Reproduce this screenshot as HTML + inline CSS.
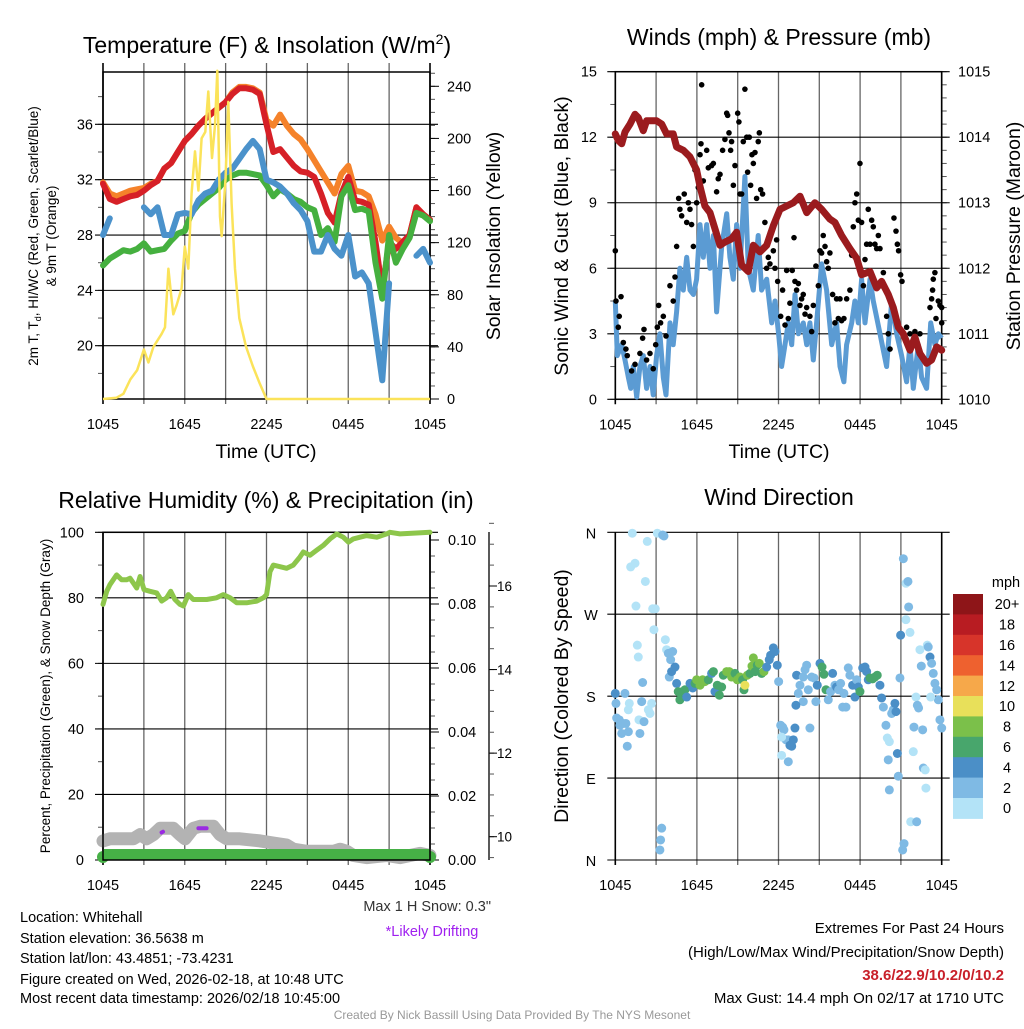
<!DOCTYPE html>
<html><head><meta charset="utf-8">
<style>
html,body{margin:0;padding:0;background:#fff;}
body{width:1024px;height:1024px;overflow:hidden;font-family:"Liberation Sans",Arial,sans-serif;}
svg text{font-family:"Liberation Sans",Arial,sans-serif;}
</style></head>
<body>
<svg id="root" width="1024" height="1024" viewBox="0 0 1024 1024" xmlns="http://www.w3.org/2000/svg">
<g id="p1"></g>
<g id="p2"></g>
<g id="p3"></g>
<g id="p4"></g>
<g>
<text x="267" y="53" font-size="23" text-anchor="middle">Temperature (F) &amp; Insolation (W/m<tspan dy="-9" font-size="14">2</tspan><tspan dy="9">)</tspan></text>
<text x="779" y="45" font-size="23" text-anchor="middle">Winds (mph) &amp; Pressure (mb)</text>
<text x="266" y="508" font-size="23" text-anchor="middle">Relative Humidity (%) &amp; Precipitation (in)</text>
<text x="779" y="505" font-size="23" text-anchor="middle">Wind Direction</text>
</g>
<g font-size="14.5">
<text x="20" y="922">Location: Whitehall</text>
<text x="20" y="943">Station elevation: 36.5638 m</text>
<text x="20" y="963">Station lat/lon: 43.4851; -73.4231</text>
<text x="20" y="984">Figure created on Wed, 2026-02-18, at 10:48 UTC</text>
<text x="20" y="1003">Most recent data timestamp: 2026/02/18 10:45:00</text>
<text x="491" y="911" text-anchor="end" fill="#333">Max 1 H Snow: 0.3"</text>
<text x="432" y="936" text-anchor="middle" fill="#a020f0">*Likely Drifting</text>
</g>
<g font-size="15">
<text x="1004" y="933" text-anchor="end">Extremes For Past 24 Hours</text>
<text x="1004" y="957" text-anchor="end">(High/Low/Max Wind/Precipitation/Snow Depth)</text>
<text x="1004" y="980" text-anchor="end" fill="#c8202a" font-weight="bold">38.6/22.9/10.2/0/10.2</text>
<text x="1004" y="1003" text-anchor="end">Max Gust: 14.4 mph On 02/17 at 1710 UTC</text>
</g>
<text x="512" y="1019" font-size="12" text-anchor="middle" fill="#999">Created By Nick Bassill Using Data Provided By The NYS Mesonet</text>
</svg>
<script>
// ---------- DATA ----------
const halfHours = [0,0.5,1,1.5,2,2.5,3,3.5,4,4.5,5,5.5,6,6.5,7,7.5,8,8.5,9,9.5,10,10.5,11,11.5,12,12.5,13,13.5,14,14.5,15,15.5,16,16.5,17,17.5,18,18.5,19,19.5,20,20.5,21,21.5,22,22.5,23,23.5,24];
const tempRed = [31.7,30.6,30.4,30.6,30.8,30.9,31.2,31.6,31.9,32.8,33.2,34.0,34.8,35.3,35.9,36.4,36.8,37.2,37.6,38.2,38.6,38.6,38.5,38.2,36.0,34.0,34.2,33.6,33.0,32.6,32.5,32.2,31.0,29.6,28.9,31.0,32.2,30.5,30.4,30.2,27.5,24.0,27.5,27.0,27.5,28.0,30.0,29.5,29.1];
const tempOrange = [31.8,31.0,30.8,31.0,31.2,31.3,31.4,31.7,31.9,32.8,33.2,34.0,34.8,35.3,35.9,36.4,36.8,37.2,37.6,38.3,38.7,38.7,38.6,38.3,36.3,35.9,36.7,35.9,35.3,34.9,34.2,33.4,32.6,31.8,31.0,32.4,33.0,31.2,31.1,30.8,29.5,27.6,28.6,27.8,27.4,28.0,30.0,29.5,29.1];
const tempGreen = [25.8,26.3,26.6,26.9,26.8,27.0,27.4,26.8,26.9,27.0,27.6,28.1,28.3,29.6,30.2,30.6,31.0,31.4,32.0,32.3,32.5,32.5,32.4,32.3,31.6,30.8,31.3,31.0,30.6,30.4,30.0,29.8,28.0,28.5,27.5,30.8,31.6,29.8,29.9,29.7,26.0,23.4,28.0,26.0,27.0,27.8,29.6,29.4,29.0];
const tempBlue = [28.0,29.2,null,null,29.3,null,30.0,29.5,30.0,28.0,28.0,29.5,29.6,29.5,30.5,31.0,31.2,32.0,32.5,32.8,33.5,34.2,34.8,34.2,32.0,31.8,31.5,31.0,30.3,29.8,29.0,26.8,26.8,28.0,27.0,26.5,28.0,25.0,25.3,24.5,21.0,17.5,24.5,null,24.0,null,26.5,27.0,26.0];
const solarHours = [0,1,1.5,2,2.5,3,3.33,3.7,4,4.3,4.55,4.8,5,5.16,5.4,5.77,6,6.26,6.5,6.75,7,7.24,7.51,7.73,8,8.22,8.39,8.59,8.71,9,9.2,9.44,9.69,10,10.5,11,11.5,12,24];
const solarValues = [0,1,4,15,22,38,28,40,45,50,55,100,80,65,72,85,117,100,158,190,160,200,205,236,185,210,252,140,125,170,228,150,100,62,40,25,12,0,0];
const tempTicks = [20,24,28,32,36];
const solarTicks = [0,40,80,120,160,200,240];

const pressHours = [0,0.22,0.47,0.71,1.08,1.45,1.69,2.06,2.3,3.04,3.41,3.77,4.26,4.51,5.0,5.49,5.98,6.23,6.59,6.96,7.33,7.7,8.06,8.55,8.92,9.29,9.78,10.15,10.64,11.13,11.62,12.11,12.6,13.09,13.58,14.07,14.68,15.17,15.78,16.15,16.64,17.25,17.75,18.11,18.73,19.22,19.58,20.07,20.44,20.81,21.18,21.67,22.03,22.4,22.89,23.26,23.63,24];
const pressValues = [1014.05,1013.95,1013.9,1014.08,1014.2,1014.35,1014.3,1014.1,1014.25,1014.25,1014.2,1014.05,1014.05,1013.85,1013.8,1013.7,1013.5,1013.25,1012.95,1012.85,1012.6,1012.35,1012.4,1012.45,1012.55,1012.05,1011.95,1012.35,1012.25,1012.35,1012.65,1012.9,1012.95,1013.0,1013.1,1012.85,1013.0,1012.9,1012.75,1012.7,1012.5,1012.3,1012.15,1011.9,1011.95,1011.7,1011.8,1011.6,1011.4,1011.1,1011.0,1010.75,1010.95,1010.7,1010.55,1010.6,1010.8,1010.75];
const windHours = [0,0.15,0.47,0.71,0.96,1.13,1.32,1.57,1.81,2.06,2.3,2.55,2.79,3.04,3.28,3.53,3.73,4.02,4.26,4.51,4.75,5.0,5.25,5.49,5.74,5.98,6.23,6.47,6.72,6.96,7.21,7.45,7.82,8.19,8.43,8.68,8.92,9.17,9.53,9.78,10.15,10.51,10.76,11.13,11.5,11.74,12.01,12.23,12.48,12.72,12.97,13.21,13.46,13.82,14.07,14.31,14.56,14.8,15.17,15.54,15.91,16.27,16.52,16.81,17.01,17.38,17.62,17.87,18.11,18.36,18.73,18.97,19.46,19.95,20.32,20.69,21.05,21.42,21.67,21.91,22.28,22.52,22.89,23.19,23.5,23.75,24];
const windValues = [4.5,2.0,2.5,1.8,1.0,0.5,1.5,0.1,1.5,2.0,0.5,1.5,0.2,2.0,3.0,1.0,0.2,3.5,2.5,4.0,6.0,5.0,6.5,5.0,4.8,5.5,8.0,6.5,8.0,6.0,7.5,4.0,7.0,8.5,6.5,5.5,8.0,6.0,10.2,6.0,5.0,7.5,5.0,5.5,3.5,4.5,3.0,1.5,2.5,3.5,2.5,4.8,3.0,3.5,2.5,3.5,1.8,3.5,6.2,5.0,2.5,3.5,1.5,0.8,2.5,3.5,4.5,3.5,5.5,3.5,5.5,4.5,3.0,1.5,4.5,3.0,2.0,0.8,2.5,0.5,2.5,1.0,0.5,3.5,2.5,3.0,2.8];
const gustHours = [0,0.05,0.22,0.29,0.42,0.59,0.78,0.88,1.2,1.45,1.81,2.01,2.11,2.3,2.55,2.79,2.97,3.09,3.19,3.33,3.53,3.73,4.02,4.26,4.39,4.51,4.66,4.75,4.88,5.07,5.25,5.37,5.49,5.61,5.74,5.86,5.98,6.1,6.23,6.3,6.35,6.47,6.72,6.84,7.08,7.21,7.45,7.57,7.7,7.89,8.06,8.19,8.26,8.36,8.48,8.55,8.68,8.8,9.0,9.09,9.17,9.29,9.41,9.53,9.66,9.73,9.85,9.95,10.05,10.15,10.27,10.39,10.51,10.59,10.69,10.83,11.0,11.13,11.25,11.37,11.62,11.74,11.86,11.94,12.16,12.3,12.48,12.6,12.72,12.84,13.01,13.14,13.21,13.33,13.46,13.58,13.7,13.82,13.95,14.07,14.31,14.44,14.56,14.75,14.93,15.05,15.17,15.29,15.42,15.54,15.66,15.78,15.98,16.15,16.27,16.4,16.52,16.64,16.81,17.01,17.25,17.38,17.5,17.62,17.75,17.87,17.99,18.11,18.24,18.36,18.48,18.6,18.73,18.85,18.97,19.09,19.22,19.34,19.46,19.58,19.71,19.95,20.07,20.2,20.49,20.64,20.74,20.83,20.98,21.08,21.42,21.67,22.03,22.4,23.14,23.26,23.33,23.38,23.5,23.58,23.75,23.87,24.0,24.0];
const gustValues = [6.8,4.5,3.3,3.8,4.7,2.6,2.3,2.0,1.3,1.6,2.1,2.8,3.2,1.8,2.1,1.4,2.5,3.3,4.3,3.5,3.8,2.9,5.2,4.5,5.6,7.0,9.2,8.7,8.4,9.4,8.1,9.0,8.7,8.0,7.0,10.5,9.0,9.7,11.2,11.7,14.4,10.0,11.4,10.6,10.7,10.8,9.5,10.1,10.3,11.4,11.9,13.1,13.0,12.2,11.4,11.8,9.8,10.7,13.1,12.7,9.4,9.4,11.8,14.2,12.0,10.4,12.0,9.8,11.2,10.8,11.3,9.2,11.8,12.2,9.6,9.4,8.1,6.0,6.5,6.2,6.8,6.0,7.3,5.4,3.8,5.0,3.4,5.9,3.7,4.4,5.9,7.4,5.4,5.0,5.3,4.3,4.6,4.8,3.9,4.2,3.8,3.1,4.3,6.1,5.2,6.8,6.7,7.5,7.0,6.3,6.0,6.7,4.8,3.5,4.6,3.7,4.6,3.6,3.7,4.6,5.0,6.6,7.9,9.0,9.4,8.2,10.8,8.1,5.2,6.4,7.1,8.7,7.1,8.2,7.9,7.1,6.9,7.5,6.9,5.2,5.8,3.8,3.0,2.3,8.3,7.7,7.1,6.8,5.7,5.4,3.3,3.0,3.1,3.0,4.2,4.6,5.0,5.5,5.8,3.7,4.5,4.3,4.2,3.5];
const windTicks = [0,3,6,9,12,15];
const pressTicks = [1010,1011,1012,1013,1014,1015];

const rhHours = [0,0.27,0.51,1.0,1.37,1.74,1.98,2.23,2.47,2.72,3.01,3.45,3.94,4.31,4.67,4.97,5.28,5.65,5.9,6.26,6.63,7.12,7.61,8.34,8.83,9.32,9.81,10.54,11.28,11.77,12.01,12.26,12.5,12.99,13.48,13.97,14.46,14.7,15.19,15.68,16.17,16.66,17.15,17.64,18.01,18.37,18.86,19.35,20.09,20.82,21.06,21.8,23.02,24];
const rhValues = [78,82,84,87,85.5,85.5,86,84.5,83,86.5,82.5,82,81.5,79,80,82,79.5,78,77.5,81,79.5,79.5,79.5,80,81,80,78.5,78.5,79,80,81,88,90,89.5,89,90,92.5,94,93,94.5,96,98,99.5,98.5,97,98,98.5,99,98.5,99.5,100,99.5,99.8,100];
const snowHours = [0,0.5,2.23,2.72,3.21,3.7,4.19,5.16,5.65,6.02,6.63,7.12,8.1,8.59,9.08,10.05,11.52,12.5,13.48,13.97,14.95,15.93,16.91,17.4,17.89,18.37,19.35,20.82,21.8,23.27,24];
const snowValues = [9.9,9.95,9.95,10.05,9.95,10.05,10.2,10.2,10.05,9.95,10.2,10.25,10.25,10.05,9.95,9.95,9.9,9.85,9.8,9.7,9.65,9.65,9.65,9.7,9.65,9.55,9.5,9.55,9.5,9.6,9.55];
const driftHours = [[4.3,4.4],[7.0,7.6]];
const driftValues = [[10.1,10.12],[10.2,10.2]];
const precipHours = [0,24];
const precipValues = [0,0];
const rhTicks = [0,20,40,60,80,100];
const precipTicks = [0,0.02,0.04,0.06,0.08,0.10];
const snowTicks = [10,12,14,16];

const dirHours = [0,0.05,0.1,0.29,0.34,0.47,0.59,0.71,0.78,0.88,0.96,1.03,0.96,1.25,1.13,1.45,1.52,1.62,1.69,1.74,1.81,1.94,2.01,2.11,2.21,2.35,2.43,2.55,2.67,2.75,2.84,2.94,3.09,3.28,3.33,3.41,3.48,3.58,3.68,3.77,3.9,4.07,4.22,3.97,4.14,4.39,4.51,4.63,4.75,4.95,5.12,5.25,5.49,5.69,5.86,5.98,6.23,6.42,6.59,6.84,7.08,7.21,7.33,7.5,7.65,7.82,7.94,8.19,8.38,8.55,8.8,8.97,9.17,9.36,9.46,9.53,9.71,9.9,10.05,10.15,10.29,10.44,10.59,10.76,10.93,11.13,11.32,11.42,11.62,11.74,11.91,12.01,12.16,12.3,12.4,12.55,12.72,12.84,12.97,13.09,13.21,12.23,12.72,12.23,13.33,13.46,13.58,13.82,13.95,14.07,14.19,13.82,13.28,14.31,14.44,14.61,14.75,14.85,15.05,15.2,15.34,15.49,15.66,15.83,15.98,16.15,16.27,16.42,16.57,16.72,16.81,16.96,17.13,17.25,17.45,17.62,17.75,17.87,17.99,18.19,18.36,18.48,18.6,18.73,18.92,19.09,19.26,19.46,19.58,19.71,19.9,20.0,20.15,20.07,20.15,20.32,20.44,20.56,20.64,20.74,20.81,20.93,20.98,21.13,21.23,21.18,21.37,21.52,21.57,21.37,21.67,21.72,21.91,21.96,22.11,22.21,22.3,22.4,22.5,22.65,22.6,22.79,22.84,22.16,22.94,23.01,23.14,23.26,23.38,23.5,23.63,23.75,23.87,24.0,23.19];
const dirDegrees = [183,172,156,154,148,139,150,183,150,125,141,172,165,359,322,326,279,236,223,154,139,174,195,152,306,350,165,161,172,276,253,276,359,11,22,35,357,356,242,231,227,220,229,201,207,212,194,185,176,185,187,179,194,189,194,198,192,198,196,198,205,207,185,192,181,190,203,207,207,201,205,198,201,198,187,192,203,205,213,222,207,214,216,205,207,212,220,225,233,229,214,196,148,146,143,132,132,126,125,132,145,115,108,135,203,183,192,201,209,214,187,174,170,145,201,200,174,192,216,212,204,187,176,185,205,192,190,187,194,168,183,168,211,203,192,179,198,190,185,211,212,207,198,200,199,201,203,192,178,168,148,134,130,110,77,161,165,172,163,117,92,200,247,11,18,331,304,306,278,264,250,42,119,146,179,170,167,231,213,101,143,99,79,42,236,234,223,216,205,194,187,176,154,145,179];
const dirSpeeds = [5,3,3,3,3,3,3,3,3,3,3,1,1,1,1,1,1,1,1,1,3,3,3,3,1,1,1,1,1,1,1,1,1,3,3,3,3,3,1,1,3,3,3,3,5,5,5,6,6,6,6,5,5,5,6,8,8,8,8,6,5,6,5,6,6,6,6,8,8,8,6,8,8,6,6,10,8,6,8,8,6,6,8,6,8,5,5,5,5,5,5,3,3,3,3,3,3,5,5,5,5,1,3,1,5,3,3,3,3,3,3,3,5,3,3,3,3,5,5,6,6,6,3,3,5,3,5,3,3,3,3,3,3,3,5,5,3,5,6,5,5,5,5,6,6,6,6,5,5,3,3,1,1,3,3,3,3,5,5,5,3,3,5,3,3,3,1,3,3,1,1,1,1,3,1,3,3,1,3,3,3,1,1,3,1,3,5,3,3,3,3,3,3,3,1];
const speedBins = ["0","2","4","6","8","10","12","14","16","18","20+"];
const binColors = ["#b3e3f7","#7fbae4","#4b8fc7","#48a66c","#7bc04a","#e8e05a","#f6a84a","#ee612f","#d7342a","#b81c22","#8e1518"];
const timeLabels = ["1045","1645","2245","0445","1045"];
const dirLabels = ["N","E","S","W","N"];
const dirTickDeg = [0,90,180,270,360];

// ---------- HELPERS ----------
const NS = "http://www.w3.org/2000/svg";
function mk(parent, tag, attrs, txt) {
  const e = document.createElementNS(NS, tag);
  for (const k in attrs) e.setAttribute(k, attrs[k]);
  if (txt !== undefined) e.textContent = txt;
  parent.appendChild(e);
  return e;
}
function lin(d0, d1, r0, r1) { return v => r0 + (v - d0) * (r1 - r0) / (d1 - d0); }
function pathD(xs, ys, fx, fy) {
  let d = "", pen = false;
  for (let i = 0; i < xs.length; i++) {
    if (ys[i] === null) { pen = false; continue; }
    d += (pen ? "L" : "M") + fx(xs[i]).toFixed(1) + " " + fy(ys[i]).toFixed(1);
    pen = true;
  }
  return d;
}
function frame(g, X0, X1, Y0, Y1, ext) {
  for (let h = 0; h <= 24; h += 3) {
    const x = X0 + (X1 - X0) * h / 24;
    const l = mk(g, "line", {x1: x, x2: x, y1: Y0 - ext, y2: Y1 + 5, stroke: (h === 0 || h === 24) ? "#000" : "#666", "stroke-width": (h === 0 || h === 24) ? 1.6 : 1.3});
    
    
  }
  for (let i = 0; i < timeLabels.length; i++) {
    const x = X0 + (X1 - X0) * i / 4;
    const t = mk(g, "text", {x: x, y: Y1 + 30, "font-size": 14.5, "text-anchor": "middle"}, timeLabels[i]);
    
    
  }
}
function hline(g, X0, X1, y) {
  const l = mk(g, "line", {x1: X0 - 8, x2: X1 + 8, y1: y, y2: y, stroke: "#000", "stroke-width": 1.1});
  
  
}
function minorTicks(g, x, yA, yB, n, dir) {
  for (let i = 0; i <= n; i++) {
    const y = yA + (yB - yA) * i / n;
    const l = mk(g, "line", {x1: x, x2: x + dir * 5, y1: y, y2: y, stroke: "#555", "stroke-width": 1});
    
    
  }
}

// ---------- PANEL 1 ----------
(function(){
  const g = document.getElementById("p1");
  const X0 = 103, X1 = 430, Y0 = 72, Y1 = 399;
  const fx = lin(0, 24, X0, X1);
  const fy = lin(16.15, 39.78, Y1, Y0);
  const fs = lin(0, 240, Y1, 86.3);
  frame(g, X0, X1, Y0, Y1, 9);
  minorTicks(g, X0, fy(18), fy(38), 10, -1);
  minorTicks(g, X1, fs(0), fs(250), 25, 1);
  tempTicks.forEach(v => {
    hline(g, X0, X1, fy(v));
    const t = mk(g, "text", {x: 93, y: fy(v) + 5, "font-size": 14.5, "text-anchor": "end"}, v);
    
    
  });
  solarTicks.forEach(v => {
    const l = mk(g, "line", {x1: X1, x2: X1 + 9, y1: fs(v), y2: fs(v), stroke: "#000"});
    
    
    const t = mk(g, "text", {x: 447, y: fs(v) + 5, "font-size": 14.5}, v);
    
    
  });
  mk(g, "rect", {x: X0, y: Y0, width: X1 - X0, height: Y1 - Y0, fill: "none", stroke: "#000", "stroke-width": 1.5});
  const series = [[tempOrange, "#f5822a", "nine-meter-temp-line"], [tempRed, "#d62027", "two-meter-temp-line"], [tempGreen, "#45b03f", "heat-index-line"], [tempBlue, "#4b92cb", "dewpoint-line"]];
  series.forEach(s => {
    const p = mk(g, "path", {d: pathD(halfHours, s[0], fx, fy), fill: "none", stroke: s[1], "stroke-width": 6, "stroke-linejoin": "round", "stroke-linecap": "round"});
    
    
  });
  const sp = mk(g, "path", {d: pathD(solarHours, solarValues, fx, fs), fill: "none", stroke: "#fbe35a", "stroke-width": 2.5, "stroke-linejoin": "round"});
  
  
  const a = mk(g, "text", {transform: "translate(38,236) rotate(-90)", "font-size": 13.5, "text-anchor": "middle"});
  
  
  a.innerHTML = '2m T, T<tspan font-size="9" dy="3">d</tspan><tspan dy="-3">, HI/WC (Red, Green, Scarlet/Blue)</tspan>';
  const a2 = mk(g, "text", {transform: "translate(56,236) rotate(-90)", "font-size": 13.5, "text-anchor": "middle"}, "& 9m T (Orange)");
  
  
  const r = mk(g, "text", {transform: "translate(500,236) rotate(-90)", "font-size": 19.5, "text-anchor": "middle"}, "Solar Insolation (Yellow)");
  
  
  const xt = mk(g, "text", {x: 266, y: 458, "font-size": 19.5, "text-anchor": "middle"}, "Time (UTC)");
  
  
})();

// ---------- PANEL 2 ----------
(function(){
  const g = document.getElementById("p2");
  const X0 = 615.3, X1 = 941.7, Y0 = 71.7, Y1 = 399.3;
  const fx = lin(0, 24, X0, X1);
  const fy = lin(0, 15, Y1, Y0);
  const fp = lin(1010, 1015, Y1, Y0);
  frame(g, X0, X1, Y0, Y1, 0);
  minorTicks(g, X0, fy(0), fy(15), 10, -1);
  minorTicks(g, X1, fp(1010), fp(1015), 25, 1);
  windTicks.forEach(v => {
    hline(g, X0, X1, fy(v));
    const t = mk(g, "text", {x: 597, y: fy(v) + 5, "font-size": 14.5, "text-anchor": "end"}, v);
    
    
  });
  pressTicks.forEach(v => {
    const t = mk(g, "text", {x: 958, y: fp(v) + 5, "font-size": 14.5}, v);
    
    
  });
  mk(g, "rect", {x: X0, y: Y0, width: X1 - X0, height: Y1 - Y0, fill: "none", stroke: "#000", "stroke-width": 1.5});
  const w = mk(g, "path", {d: pathD(windHours, windValues, fx, fy), fill: "none", stroke: "#5b9bd3", "stroke-width": 5, "stroke-linejoin": "round"});
  
  
  for (let i = 0; i < gustHours.length; i++) {
    const c = mk(g, "circle", {cx: fx(gustHours[i]), cy: fy(gustValues[i]), r: 2.8, fill: "#000"});
    
    
  }
  const p = mk(g, "path", {d: pathD(pressHours, pressValues, fx, fp), fill: "none", stroke: "#9b1b1e", "stroke-width": 7, "stroke-linejoin": "round", "stroke-linecap": "round"});
  
  
  const a = mk(g, "text", {transform: "translate(568,236) rotate(-90)", "font-size": 19.5, "text-anchor": "middle"}, "Sonic Wind & Gust (Blue, Black)");
  
  
  const r = mk(g, "text", {transform: "translate(1020,236) rotate(-90)", "font-size": 19.5, "text-anchor": "middle"}, "Station Pressure (Maroon)");
  
  
  const xt = mk(g, "text", {x: 779, y: 458, "font-size": 19.5, "text-anchor": "middle"}, "Time (UTC)");
  
  
})();

// ---------- PANEL 3 ----------
(function(){
  const g = document.getElementById("p3");
  const X0 = 103, X1 = 430, Y0 = 532.3, Y1 = 860;
  const fx = lin(0, 24, X0, X1);
  const fy = lin(0, 100, Y1, Y0);
  const fpr = lin(0, 0.10, Y1, 540);
  const fsn = lin(10, 16, 836.7, 586);
  frame(g, X0, X1, Y0, Y1, 0);
  minorTicks(g, X0, fy(0), fy(100), 10, -1);
  minorTicks(g, X1, fpr(0), fpr(0.1), 20, 1);
  rhTicks.forEach(v => {
    hline(g, X0, X1, fy(v));
    const t = mk(g, "text", {x: 84, y: fy(v) + 5, "font-size": 14.5, "text-anchor": "end"}, v);
    
    
  });
  precipTicks.forEach(v => {
    const l = mk(g, "line", {x1: X1, x2: X1 + 9, y1: fpr(v), y2: fpr(v), stroke: "#000"});
    
    
    const t = mk(g, "text", {x: 448, y: fpr(v) + 5, "font-size": 14.5}, v.toFixed(2));
    
    
  });
  const ax = mk(g, "line", {x1: 489, x2: 489, y1: 532, y2: 860, stroke: "#000", "stroke-width": 1.3});
  
  
  minorTicks(g, 489, fsn(9.5), fsn(17.5), 16, 1);
  snowTicks.forEach(v => {
    const l = mk(g, "line", {x1: 489, x2: 497, y1: fsn(v), y2: fsn(v), stroke: "#000"});
    
    
    const t = mk(g, "text", {x: 497, y: fsn(v) + 5, "font-size": 13.5}, v);
    
    
  });
  const sn = mk(g, "path", {d: pathD(snowHours, snowValues, fx, fsn), fill: "none", stroke: "#b3b3b3", "stroke-width": 13, "stroke-linejoin": "round", "stroke-linecap": "round"});
  
  
  driftHours.forEach((h, i) => {
    const d = mk(g, "path", {d: pathD(h, driftValues[i], fx, fsn), fill: "none", stroke: "#9a2be2", "stroke-width": 4, "stroke-linecap": "round"});
    
    
  });
  const pr = mk(g, "path", {d: pathD(precipHours, precipValues, fx, v => fpr(v) - 5.5), fill: "none", stroke: "#46b046", "stroke-width": 11});
  
  
  [0, 24].forEach(h => {
    const c = mk(g, "circle", {cx: fx(h), cy: Y1 - 3, r: 6, fill: "#46b046"});
    
    
  });
  mk(g, "rect", {x: X0, y: Y0, width: X1 - X0, height: Y1 - Y0, fill: "none", stroke: "#000", "stroke-width": 1.5});
  const rh = mk(g, "path", {d: pathD(rhHours, rhValues, fx, fy), fill: "none", stroke: "#8dc64b", "stroke-width": 5, "stroke-linejoin": "round", "stroke-linecap": "round"});
  
  
  const a = mk(g, "text", {transform: "translate(50,696) rotate(-90)", "font-size": 13.5, "text-anchor": "middle"}, "Percent, Precipitation (Green), & Snow Depth (Gray)");
  
  
})();

// ---------- PANEL 4 ----------
(function(){
  const g = document.getElementById("p4");
  const X0 = 615.3, X1 = 941.7, Y0 = 532.3, Y1 = 860;
  const fx = lin(0, 24, X0, X1);
  const fy = lin(0, 360, Y1, Y0);
  frame(g, X0, X1, Y0, Y1, 0);
  dirTickDeg.forEach((v, i) => {
    hline(g, X0, X1, fy(v));
    const t = mk(g, "text", {x: 591, y: fy(v) + 6, "font-size": 14.5, "text-anchor": "middle"}, dirLabels[i]);
    
    
  });
  for (let i = 0; i < dirHours.length; i++) {
    const sp = dirSpeeds[i] === undefined ? 1 : dirSpeeds[i];
    const bin = Math.min(10, Math.floor(sp / 2));
    const c = mk(g, "circle", {cx: fx(dirHours[i]), cy: fy(dirDegrees[i]), r: 4.5, fill: binColors[bin]});
    
    
  }
  const a = mk(g, "text", {transform: "translate(568,696) rotate(-90)", "font-size": 19.5, "text-anchor": "middle"}, "Direction (Colored By Speed)");
  
  
  const cb = mk(g, "g", {});
  
  
  const top = 594, bh = 20.4;
  for (let i = 0; i < binColors.length; i++) {
    const k = binColors.length - 1 - i;
    const r = mk(cb, "rect", {x: 953, y: top + i * bh, width: 30, height: bh + 0.5, fill: binColors[k]});
    
    
    const t = mk(cb, "text", {x: 1007, y: top + i * bh + bh / 2 + 5, "font-size": 14.5, "text-anchor": "middle"}, speedBins[k]);
    
    
  }
  const u = mk(cb, "text", {x: 1006, y: 587, "font-size": 14.5, "text-anchor": "middle"}, "mph");
  
  
})();
</script>
</body></html>
